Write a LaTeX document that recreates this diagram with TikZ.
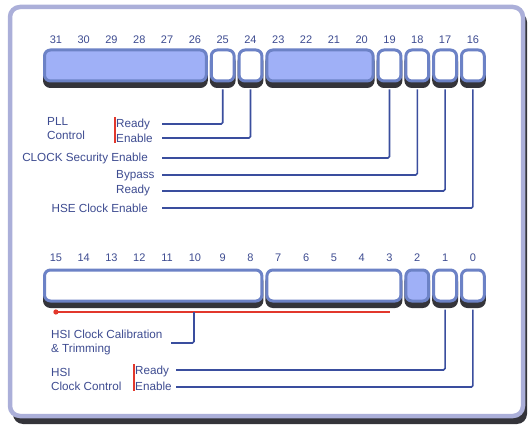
\documentclass[tikz,border=0pt]{standalone}
\usepackage{fontspec}
\setmainfont{Liberation Sans}
\usetikzlibrary{positioning}

\definecolor{regfill}{HTML}{9FB0F7}
\definecolor{regline}{HTML}{6C82C6}
\definecolor{shadegray}{HTML}{34343A}
\definecolor{wirecol}{HTML}{3A4E9E}
\definecolor{textcol}{HTML}{3E4C91}
\definecolor{framecol}{HTML}{ABAFD9}
\definecolor{redmark}{HTML}{E2382C}

\tikzset{
  regbox/.style={draw=regline, line width=3pt, rounded corners=6pt,
    minimum height=31pt, inner sep=0pt},
  shadebox/.style={regbox, draw=shadegray, fill=shadegray},
  bitnum/.style={text=textcol, font=\fontsize{11}{13}\selectfont, inner sep=0pt},
  lbl/.style={text=textcol, font=\fontsize{11.7}{14}\selectfont, inner sep=1pt, align=left},
  wire/.style={draw=wirecol, line width=1.6pt, rounded corners=1.5pt, shorten <=7pt},
  redbar/.style={draw=redmark, line width=2pt}
}

% name, x, y, width, fill
\newcommand{\regfield}[5]{%
  \node[shadebox, minimum width=#4] at ({#2},{#3+5.5}) {};
  \node[regbox, minimum width=#4, fill=#5] (#1) at ({#2},{#3}) {};}

\begin{document}
\begin{tikzpicture}[x=1pt,y=-1pt]
\useasboundingbox (0,0) rectangle (531,428);
% frame
\fill[shadegray, rounded corners=10pt] (13,12) rectangle (527,424);
\draw[framecol, line width=4.5pt, fill=white, rounded corners=10pt] (10,7) rectangle (523,416);

% upper half: bits 31..16
\foreach \b in {16,...,31}
  \node[bitnum] (n\b) at ({55.9+27.8*(31-\b)},40) {\b};
\regfield{b3126}{125.4}{65.5}{161.8pt}{regfill}
\regfield{b2320}{320}{65.5}{106.2pt}{regfill}
\foreach \b in {25,24,19,18,17,16}
  {\regfield{b\b}{55.9+27.8*(31-\b)}{65.5}{22.8pt}{white}}

\node[lbl, anchor=west] (pll) at (46,129) {PLL\\Control};
\node[lbl, anchor=west] (pllrdy) at (115,124) {Ready};
\node[lbl, anchor=west] (pllen) at (115,138) {Enable};
\draw[redbar] (pllrdy.north west) -- (pllen.south west);
\node[lbl, anchor=east] (css) at (149,158) {CLOCK Security Enable};
\node[lbl, anchor=west] (hsebyp) at (115,176) {Bypass};
\node[lbl, anchor=west] (hserdy) at (115,190) {Ready};
\node[lbl, anchor=east] (hseon) at (149,208) {HSE Clock Enable};

\coordinate (e25) at (162,124);
\coordinate (e24) at (162,138);
\coordinate (e19) at (162,158);
\coordinate (e18) at (162,175);
\coordinate (e17) at (162,191);
\coordinate (e16) at (162,208);
\foreach \b in {25,24,19,18,17,16}
  \draw[wire] (b\b.south) |- (e\b);

% lower half: bits 15..0
\foreach \b in {0,...,15}
  \node[bitnum] (n\b) at ({55.9+27.8*(15-\b)},258) {\b};
\regfield{b158}{153.2}{285.5}{217.4pt}{white}
\regfield{b73}{333.9}{285.5}{134pt}{white}
\regfield{b2}{417.3}{285.5}{22.8pt}{regfill}
\regfield{b1}{445.1}{285.5}{22.8pt}{white}
\regfield{b0}{472.9}{285.5}{22.8pt}{white}

% calibration span
\coordinate (cal0) at (55.9,312);
\coordinate (cal1) at (389.5,312);
\coordinate (calm) at (194,312);
\coordinate (cale) at (171,343);
\draw[redmark, line width=1.5pt] (cal0) -- (cal1);
\fill[redmark] (cal0) circle (2.6pt);
\draw[wire, shorten <=0pt] (calm) |- (cale);
\node[lbl, anchor=west] (hsical) at (50,342.5) {HSI Clock Calibration\\\& Trimming};

\node[lbl, anchor=west] (hsi) at (50,379) {HSI\\Clock Control};
\node[lbl, anchor=west] (hsirdy) at (134,371) {Ready};
\node[lbl, anchor=west] (hsien) at (134,386) {Enable};
\draw[redbar] (hsirdy.north west) -- (hsien.south west);

\coordinate (e1) at (176,370);
\coordinate (e0) at (176,387);
\draw[wire] (b1.south) |- (e1);
\draw[wire] (b0.south) |- (e0);
\end{tikzpicture}
\end{document}
